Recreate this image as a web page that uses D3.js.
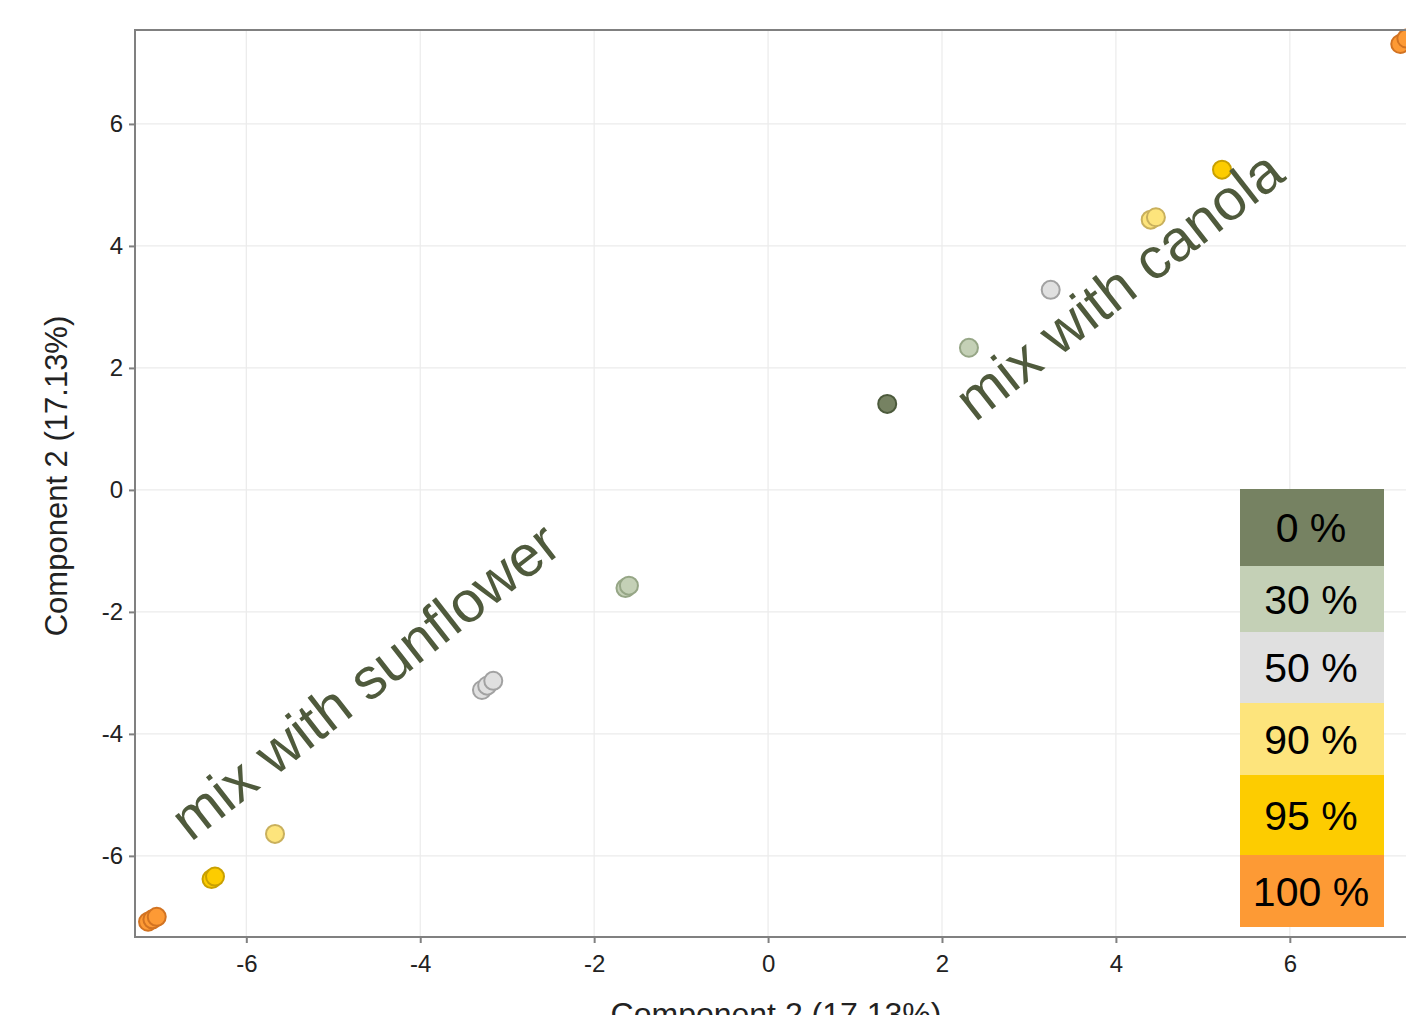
<!DOCTYPE html>
<html><head><meta charset="utf-8">
<script src="https://cdn.jsdelivr.net/npm/d3@7"></script>
<style>body{margin:0;background:#fff}svg{display:block}text{font-family:"Liberation Sans",Arial,sans-serif}</style>
</head><body><svg id="c" width="1406" height="1015"></svg>
<script>
const levels = ["0 %","30 %","50 %","90 %","95 %","100 %"];
const fills = ["#768262","#c4d0b6","#e0e0e0","#fde47c","#fdcc00","#fd9a35"];
const strokes = ["#4c5a3c","#96a686","#a2a2a2","#c9b05c","#c9a000","#d27322"];
const ptLevel = ["0 %","30 %","50 %","90 %","90 %","95 %","100 %","100 %","30 %","30 %","50 %","50 %","50 %","90 %","95 %","95 %","100 %","100 %","100 %"];
const ptX = [1.37,2.31,3.25,4.40,4.46,5.22,7.27,7.34,-1.64,-1.60,-3.29,-3.23,-3.16,-5.67,-6.40,-6.36,-7.13,-7.08,-7.03];
const ptY = [1.41,2.33,3.28,4.43,4.47,5.25,7.31,7.40,-1.61,-1.57,-3.28,-3.21,-3.13,-5.64,-6.38,-6.34,-7.08,-7.04,-7.0];
const xTicks = [-6,-4,-2,0,2,4,6];
const yTicks = [-6,-4,-2,0,2,4,6];
const axisTitle = "Component 2 (17.13%)";
const notes = ["mix with canola","mix with sunflower"];
const noteX = [2.38,-6.64]; const noteY = [1.1,-5.78];

const svg = d3.select("#c");
const L=135,T=30,B=937;
const x = d3.scaleLinear().domain([-7.28,7.5]).range([L,L+(7.5+7.28)*86.96]);
const y = d3.scaleLinear().domain([-7.33,7.54]).range([B,T]);
const R = x(7.5);
const color = d3.scaleOrdinal().domain(levels).range(fills);
const scol = d3.scaleOrdinal().domain(levels).range(strokes);
const fmt = d => String(d);

const g = svg.append("g");
g.append("g").selectAll("line").data(xTicks).join("line")
 .attr("x1",d=>x(d)).attr("x2",d=>x(d)).attr("y1",T).attr("y2",B).attr("stroke","#ebebeb").attr("stroke-width",1.2);
g.append("g").selectAll("line").data(yTicks).join("line")
 .attr("y1",d=>y(d)).attr("y2",d=>y(d)).attr("x1",L).attr("x2",R).attr("stroke","#ebebeb").attr("stroke-width",1.2);

const xa = svg.append("g").attr("transform",`translate(0,${B})`).call(d3.axisBottom(x).tickValues(xTicks).tickSize(6).tickPadding(6).tickFormat(fmt));
const ya = svg.append("g").attr("transform",`translate(${L},0)`).call(d3.axisLeft(y).tickValues(yTicks).tickSize(6).tickPadding(6).tickFormat(fmt));
[xa,ya].forEach(a=>{a.select(".domain").remove();a.selectAll("line").attr("stroke","#808080").attr("stroke-width",2);
 a.selectAll("text").attr("font-size",24).attr("fill","#222").style("font-family","Liberation Sans, Arial");});
xa.selectAll("text").attr("dy","0.95em");

// points
svg.append("g").selectAll("circle").data(ptX.map((v,i)=>({x:v,y:ptY[i],l:ptLevel[i]}))).join("circle")
 .attr("cx",d=>x(d.x)).attr("cy",d=>y(d.y)).attr("r",9)
 .attr("fill",d=>color(d.l)).attr("stroke",d=>scol(d.l)).attr("stroke-width",2);

// border
svg.append("rect").attr("x",L).attr("y",T).attr("width",R-L).attr("height",B-T).attr("fill","none").attr("stroke","#808080").attr("stroke-width",2);

// notes
notes.forEach((t,i)=>{
 svg.append("text").attr("transform",`translate(${x(noteX[i])},${y(noteY[i])}) rotate(-38)`)
  .attr("font-size",58).attr("fill","#4f5a3c").text(t);
});

// legend
const lgTop=[489,566,632,703,775,855,927];
const lg = svg.append("g");
levels.forEach((l,i)=>{
 lg.append("rect").attr("x",1240).attr("y",lgTop[i]).attr("width",144).attr("height",lgTop[i+1]-lgTop[i]).attr("fill",color(l));
 lg.append("text").attr("x",1311).attr("y",(lgTop[i]+lgTop[i+1])/2).attr("dy","0.36em").attr("text-anchor","middle")
  .attr("font-size",41).attr("fill","#000").text(l);
});

svg.append("text").attr("x",776).attr("y",1025).attr("text-anchor","middle").attr("font-size",32).attr("fill","#222").text(axisTitle);
svg.append("text").attr("transform",`translate(67,476) rotate(-90)`).attr("text-anchor","middle").attr("font-size",31).attr("fill","#222").text(axisTitle);
</script></body></html>
